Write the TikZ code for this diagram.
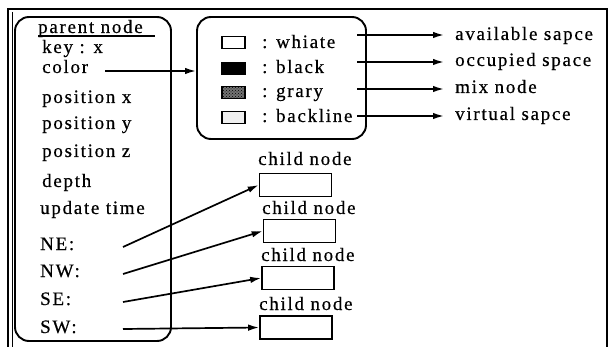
\documentclass[tikz,border=0pt]{standalone}
\usepackage{fontspec}
\setmainfont[LetterSpace=9, FakeBold=0.5]{Liberation Serif}
\usetikzlibrary{arrows.meta,patterns}
\begin{document}
\begin{tikzpicture}[x=1pt,y=-1pt,
  every node/.style={inner sep=0pt, font=\fontsize{19}{22}\selectfont},
  txt/.style={anchor=base west},
  roundbox/.style={draw, line width=1.9pt, rounded corners=14pt, inner sep=0pt},
  swatch/.style={draw, line width=1.4pt, minimum width=23pt, minimum height=12pt},
  childbox/.style={draw, line width=1.6pt, minimum width=72pt, minimum height=23pt},
  link/.style={line width=1.7pt, -{Latex[length=11pt,width=6.5pt]}}]
\useasboundingbox (0,0) rectangle (612,347);

% outer frame (open at the bottom edge)
\draw[line width=1.9pt] (8,350) -- (8,9) -- (607,9) -- (607,350);
\draw[line width=1pt] (12,12) -- (12,350);

% parent node record
\node[roundbox, minimum width=156pt, minimum height=324pt] (parent) at (93,179) {};
\node[txt] (title) at (38,33) {parent node};
\draw[line width=1.3pt] (title.base west) ++(0,3) -- ++(117,0);
\node[txt] (key)   at (42,53)  {key : x};
\node[txt] (color) at (42,73)  {color};
\node[txt] (posx)  at (42,103) {position x};
\node[txt] (posy)  at (42,129) {position y};
\node[txt] (posz)  at (42,157) {position z};
\node[txt] (depth) at (42,187) {depth};
\node[txt] (upd)   at (40,214) {update time};
\node[txt] (ne)    at (40,250) {NE:};
\node[txt] (nw)    at (40,277) {NW:};
\node[txt] (se)    at (40,305) {SE:};
\node[txt] (sw)    at (40,333) {SW:};

% colour legend
\node[roundbox, minimum width=169pt, minimum height=122pt] (legend) at (281.5,78) {};
\node[swatch] (swW) at (233.5,42.5) {};
\node[swatch, fill=black] (swB) at (233.5,68.5) {};
\node[swatch, fill=black!55, postaction={pattern=crosshatch dots, pattern color=black}] (swG) at (233.5,92.5) {};
\node[swatch, fill=black!6] (swL) at (233.5,117.5) {};
\node[txt] (tW) at (262,48)  {: whiate};
\node[txt] (tB) at (262,73)  {: black};
\node[txt] (tG) at (262,97)  {: grary};
\node[txt] (tL) at (262,122) {: backline};

% meanings of the colours
\node[txt] (mA) at (455,40)  {available sapce};
\node[txt] (mB) at (455,66)  {occupied space};
\node[txt] (mG) at (455,93)  {mix node};
\node[txt] (mL) at (455,120) {virtual sapce};

\coordinate (sA) at (357,35);
\coordinate (sB) at (357,62);
\coordinate (sG) at (357,89);
\coordinate (sL) at (357,116);
\foreach \s/\m in {sA/mA, sB/mB, sG/mG, sL/mL}
  \draw[link, shorten >=11pt] (\s) -- (\s -| \m.west);

% colour field points to the legend
\coordinate (cS) at (105,71);
\draw[link] (cS) -- (cS -| legend.west);

% child nodes
\node[childbox] (c1) at (295.5,185) {};
\node[childbox] (c2) at (299.5,231) {};
\node[childbox] (c3) at (298,278) {};
\node[childbox] (c4) at (296,327.5) {};
\node[txt] (l1) at (258,165) {child node};
\node[txt] (l2) at (262,214) {child node};
\node[txt] (l3) at (261,261) {child node};
\node[txt] (l4) at (259,310) {child node};

\coordinate (pNE) at (123,247);
\coordinate (pNW) at (123,274);
\coordinate (pSE) at (123,302);
\coordinate (pSW) at (123,329);
\draw[link] (pNE) -- (c1.west);
\draw[link] (pNW) -- (c2.west);
\draw[link] (pSE) -- (c3.west);
\draw[link] (pSW) -- (c4.west);
\end{tikzpicture}
\end{document}
